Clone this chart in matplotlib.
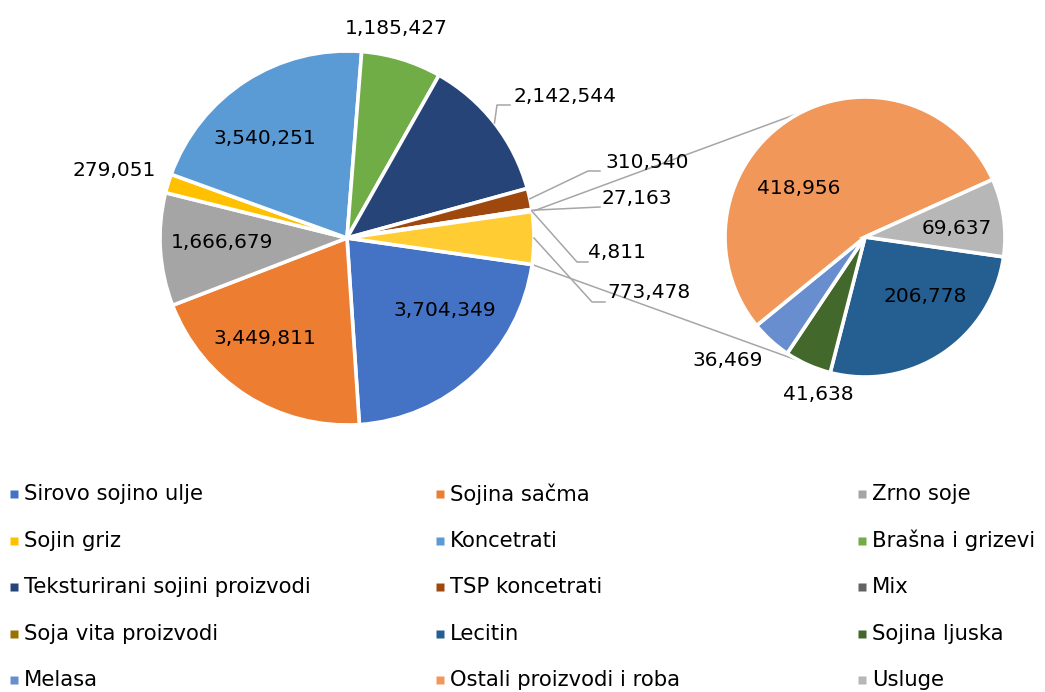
import matplotlib
matplotlib.use('Agg')
import matplotlib.pyplot as plt
import numpy as np

# main pie categories and values
main_labels = ['Sirovo sojino ulje', 'Sojina sačma', 'Zrno soje', 'Sojin griz', 'Koncetrati',
               'Brašna i grizevi', 'Teksturirani sojini proizvodi', 'TSP koncetrati', 'Mix',
               'Soja vita proizvodi']
main_values = [3704349, 3449811, 1666679, 279051, 3540251, 1185427, 2142544, 310540, 27163, 4811]

# secondary pie (split out of the main pie as one "other" slice)
sub_labels = ['Lecitin', 'Sojina ljuska', 'Melasa', 'Ostali proizvodi i roba', 'Usluge']
sub_values = [206778, 41638, 36469, 418956, 69637]

main_colors = ['#4472C4', '#ED7D31', '#A5A5A5', '#FFC000', '#5B9BD5', '#70AD47',
               '#264478', '#9E480E', '#636363', '#997300']
other_color = '#FFCD33'
sub_colors = ['#255E91', '#43682B', '#698ED0', '#F1975A', '#B7B7B7']

W, H = 1045, 692
FONT = 'DejaVu Sans'
LINE = '#A6A6A6'


def px(x, y):
    # picture pixel -> axes data coords (y up)
    return (x, H - y)


fig = plt.figure(figsize=(W / 100, H / 100), dpi=100)
ax = fig.add_axes([0, 0, 1, 1])

main_c, R1 = px(347, 238), 187
sub_c, R2 = px(865, 237), 140

other_value = sum(sub_values)
vals = main_values + [other_value]
start = -180.0 * other_value / sum(vals)

wp = dict(edgecolor='white', linewidth=2.6)
w1, _ = ax.pie(vals, colors=main_colors + [other_color], startangle=start, counterclock=False,
               center=main_c, radius=R1, wedgeprops=wp)
w2, _ = ax.pie(sub_values, colors=sub_colors, startangle=start, counterclock=False,
               center=sub_c, radius=R2, wedgeprops=wp)


def rim(c, r, ang):
    a = np.deg2rad(ang)
    return (c[0] + r * np.cos(a), c[1] + r * np.sin(a))


# connector lines from the "other" slice to the secondary pie
ow = w1[-1]
for a_main, a_sub in [(ow.theta2, 117), (ow.theta1, -117)]:
    p0 = rim(main_c, R1, a_main)
    p1 = rim(sub_c, R2, a_sub)
    ax.plot([p0[0], p1[0]], [p0[1], p1[1]], color=LINE, lw=1.1, zorder=0.5)

# data labels
main_pos = [(445, 311), (265, 338), (222, 242), (114, 170), (265, 138), (396, 29),
            (565, 97), (647, 163), (637, 199), (617, 253), (649, 293)]
sub_pos = [(925, 296), (818, 395), (728, 360), (799, 188), (957, 228)]

for v, p in zip(vals, main_pos):
    x, y = px(*p)
    ax.text(x, y, f'{v:,}', ha='center', va='center', fontsize=14.5, family=FONT, color='black')
for v, p in zip(sub_values, sub_pos):
    x, y = px(*p)
    ax.text(x, y, f'{v:,}', ha='center', va='center', fontsize=14.5, family=FONT, color='black')

# leader lines
leaders = {6: [(497, 105), (510, 105)],
           7: [(588, 171), (600, 171)],
           8: [(600, 207)],
           9: [(577, 262), (588, 262)],
           10: [(592, 302), (605, 302)]}
for i, pts in leaders.items():
    w = w1[i]
    p0 = rim(main_c, R1, (w.theta1 + w.theta2) / 2)
    xs = [p0[0]] + [px(*q)[0] for q in pts]
    ys = [p0[1]] + [px(*q)[1] for q in pts]
    ax.plot(xs, ys, color=LINE, lw=1.1)

# legend, 3 columns filled row by row
leg_labels = main_labels + sub_labels
leg_colors = main_colors + sub_colors
col_x = [14, 440, 862]
row_y0, row_dy = 494, 46.6
for k, (lab, col) in enumerate(zip(leg_labels, leg_colors)):
    r, c = divmod(k, 3)
    x, y = px(col_x[c], row_y0 + r * row_dy)
    ax.plot([x], [y], marker='s', ms=5.5, color=col, mec='none')
    ax.text(x + 10, y, lab, ha='left', va='center', fontsize=15.2, family=FONT, color='black')

ax.set_xlim(0, W)
ax.set_ylim(0, H)
ax.set_aspect('equal')
ax.axis('off')

fig.savefig('out.png', dpi=100)
